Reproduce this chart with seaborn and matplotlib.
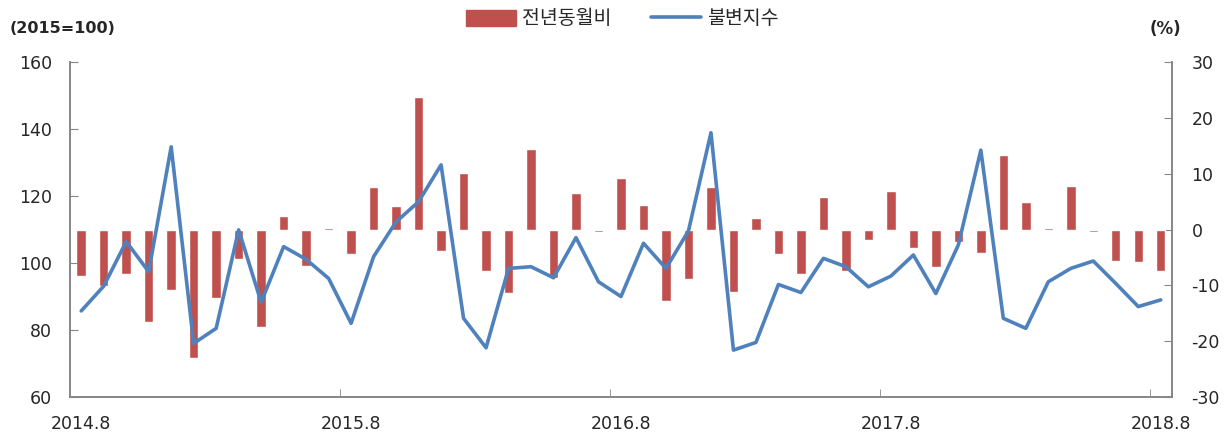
import numpy as np
import pandas as pd
import matplotlib.pyplot as plt
import matplotlib.lines as mlines
import matplotlib.patches as mpatches
import seaborn as sns

# 2014.8 ~ 2018.8 monthly
months = [p.strftime("%Y.") + str(p.month) for p in pd.period_range("2014-08", "2018-08", freq="M")]

# year-on-year change (%), right axis
yoy = [-8.3, -10.2, -8.0, -16.6, -10.8, -23.1, -12.3, -5.3, -17.4, 2.4,
       -6.5, 0.2, -4.4, 7.6, 4.3, 23.8, -3.9, 10.2, -7.4, -11.4,
       14.5, -8.7, 6.5, -0.5, 9.3, 4.4, -12.8, -8.9, 7.6, -11.1,
       2.0, -4.4, -8.0, 5.9, -7.4, -1.9, 6.9, -3.3, -6.8, -2.3,
       -4.2, 13.3, 5.0, 0.2, 7.8, -0.4, -5.6, -5.9, -7.4]

# constant price index (2015=100), left axis
index = [85.7, 93.1, 106.4, 97.4, 134.7, 76.0, 80.5, 109.9, 88.3, 104.9,
         101.1, 95.4, 82.0, 101.9, 112.3, 118.3, 129.3, 83.5, 74.7, 98.4,
         98.9, 95.6, 107.6, 94.4, 90.0, 105.9, 98.4, 109.6, 138.9, 74.0,
         76.3, 93.6, 91.2, 101.4, 98.9, 92.9, 96.1, 102.4, 90.9, 105.4,
         133.7, 83.5, 80.5, 94.4, 98.4, 100.6, 93.9, 87.0, 89.0]

tick_labels = ["2014.8", "2015.8", "2016.8", "2017.8", "2018.8"]

df = pd.DataFrame({"month": months, "pos": np.arange(len(months)), "yoy": yoy, "index": index})

sns.set_style("white")
plt.rcParams["font.family"] = ["DejaVu Sans", "Noto Sans CJK KR"]
plt.rcParams["axes.unicode_minus"] = False

bar_color = "#C0504D"
line_color = "#4F81BD"
spine_color = "#868686"
text_color = "#262626"

fig = plt.figure(figsize=(12.32, 4.37), dpi=100)
ax = fig.add_axes([0.0568, 0.0915, 0.8945, 0.7665])
ax2 = ax.twinx()

sns.barplot(data=df, x="month", y="yoy", color=bar_color, width=0.42, saturation=1, ax=ax2)
sns.lineplot(data=df, x="pos", y="index", color=line_color, linewidth=2.6, ax=ax)

ax.set_zorder(ax2.get_zorder() + 1)
ax.patch.set_visible(False)

ax.set_xlim(-0.5, len(months) - 0.5)
ax2.set_xlim(-0.5, len(months) - 0.5)
ax.set_ylim(60, 160)
ax.set_yticks(range(60, 161, 20))
ax2.set_ylim(-30, 30)
ax2.set_yticks(range(-30, 31, 10))

ax.set_xlabel("")
ax.set_ylabel("")
ax2.set_xlabel("")
ax2.set_ylabel("")

ax.set_xticks([months.index(t) for t in tick_labels])
ax.set_xticklabels(tick_labels)
ax.set_xticks([11.5, 23.5, 35.5, 47.5], minor=True)
ax.tick_params(axis="x", which="major", length=0, pad=13, labelsize=12.5, colors=text_color)
ax.tick_params(axis="x", which="minor", direction="in", length=6, color=spine_color, bottom=True)
ax.tick_params(axis="y", direction="in", length=6, color=spine_color, labelsize=12.5,
               labelcolor=text_color, pad=13, left=True)
ax2.tick_params(axis="y", direction="in", length=6, color=spine_color, labelsize=12.5,
                labelcolor=text_color, pad=14, right=True)
ax2.tick_params(axis="x", bottom=False, labelbottom=False)

for a in (ax, ax2):
    a.spines["top"].set_visible(False)
    for s in ("left", "right", "bottom"):
        a.spines[s].set_color(spine_color)
        a.spines[s].set_linewidth(1.2)

fig.text(0.008, 0.934, "(2015=100)", fontsize=11.5, fontweight="bold", color=text_color, va="center")
fig.text(0.933, 0.934, "(%)", fontsize=12, fontweight="bold", color=text_color, va="center")

handles = [mpatches.Patch(color=bar_color, label="전년동월비"),
           mlines.Line2D([], [], color=line_color, linewidth=2.6, label="불변지수")]
fig.legend(handles=handles, loc="center", bbox_to_anchor=(0.505, 0.957), ncol=2, frameon=False,
           prop={"family": ["Noto Sans CJK KR", "DejaVu Sans"], "size": 14},
           handlelength=2.6, handleheight=0.9, columnspacing=2.0, handletextpad=0.3)

plt.savefig("out.png", dpi=100)
plt.close()
